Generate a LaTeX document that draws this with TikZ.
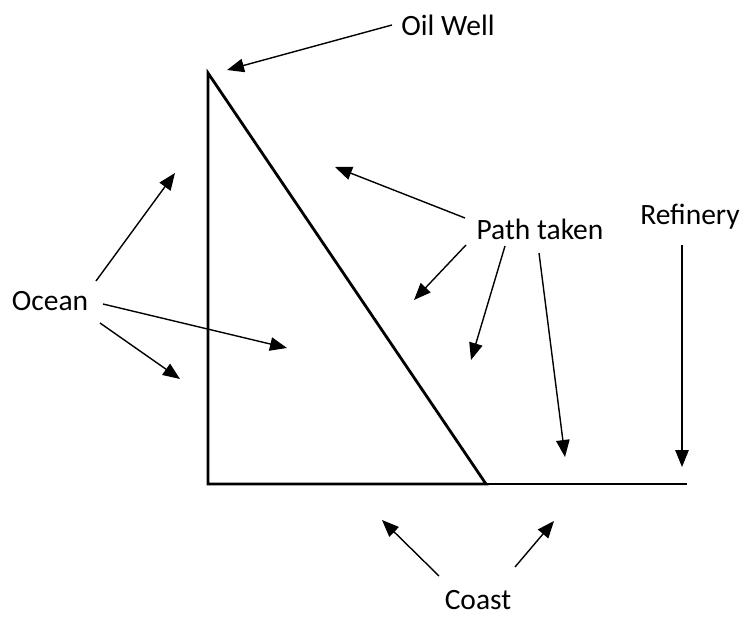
\documentclass[tikz,border=0pt]{standalone}
\usepackage{fontspec}
\setmainfont{Carlito}
\usetikzlibrary{arrows.meta}
\begin{document}
\begin{tikzpicture}[x=1pt,y=-1pt,
  lbl/.style={inner sep=0pt,font=\fontsize{29.5}{35}\selectfont},
  pointer/.style={line width=1.4pt,-{Triangle[length=17pt,width=13.5pt]}},
  thick edge/.style={line width=2.8pt,line join=miter},
  coast edge/.style={line width=1.5pt}]
\useasboundingbox (0,0) rectangle (752,617);
% triangle
\coordinate (top) at (208,73);
\coordinate (corner) at (208,484);
\coordinate (hyp) at (486,484);
\coordinate (coastend) at (687,484);
\draw[thick edge] (top) -- (corner) -- (hyp) -- cycle;
\draw[coast edge] (hyp) -- (coastend);
% labels
\node[lbl] (oil) at (448,25) {Oil Well};
\node[lbl] (ocean) at (50,301) {Ocean};
\node[lbl] (path) at (540,229) {Path taken};
\node[lbl] (ref) at (690,217) {Refinery};
\node[lbl] (coast) at (478,600) {Coast};
% arrow ends
\coordinate (oilS) at (392,25);   \coordinate (oilT) at (227,70);
\coordinate (oc1S) at (96,281);   \coordinate (oc1T) at (175,173);
\coordinate (oc2S) at (103,304);  \coordinate (oc2T) at (287,348);
\coordinate (oc3S) at (100,323);  \coordinate (oc3T) at (180,379);
\coordinate (p1S) at (465,218);   \coordinate (p1T) at (335,167);
\coordinate (p2S) at (466,245);   \coordinate (p2T) at (414,300);
\coordinate (p3S) at (505,246);   \coordinate (p3T) at (471,360);
\coordinate (p4S) at (539,253);   \coordinate (p4T) at (565,457);
\coordinate (rS) at (682,245);    \coordinate (rT) at (682,467);
\coordinate (c1S) at (439,576);   \coordinate (c1T) at (382,520);
\coordinate (c2S) at (515,567);   \coordinate (c2T) at (554,521);
% arrows
\draw[pointer] (oilS) -- (oilT);
\draw[pointer] (oc1S) -- (oc1T);
\draw[pointer] (oc2S) -- (oc2T);
\draw[pointer] (oc3S) -- (oc3T);
\draw[pointer] (p1S) -- (p1T);
\draw[pointer] (p2S) -- (p2T);
\draw[pointer] (p3S) -- (p3T);
\draw[pointer] (p4S) -- (p4T);
\draw[pointer] (rS) -- (rT);
\draw[pointer] (c1S) -- (c1T);
\draw[pointer] (c2S) -- (c2T);
\end{tikzpicture}
\end{document}
